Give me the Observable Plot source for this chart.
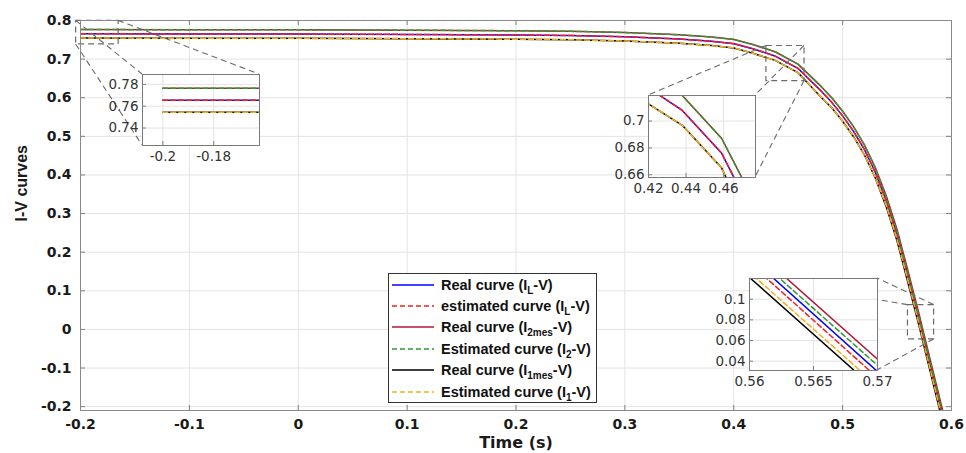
<!DOCTYPE html>
<html><head><meta charset="utf-8">
<script src="https://cdn.jsdelivr.net/npm/d3@7"></script>
<script src="https://cdn.jsdelivr.net/npm/@observablehq/plot@0.6"></script>
<style>
body{margin:0;background:#fff;}
#wrap{position:relative;width:966px;height:453px;overflow:hidden;font-family:"Liberation Sans",Arial,sans-serif;}
#legend{position:absolute;left:388px;top:273px;height:130px;border:1px solid #333;background:#fff;box-sizing:border-box;padding-right:5px;}
.row{height:21.4px;display:flex;align-items:center;font-family:"Liberation Sans";font-weight:bold;font-size:14.5px;color:#111;white-space:nowrap;}
.row svg{margin-left:3px;margin-right:7px;flex:none;}
.row sub{font-size:10px;line-height:0;vertical-align:-4px;}
</style></head>
<body><div id="wrap"></div>
<script>
// ---------- data ----------
const T = [-0.2, -0.1, 0, 0.1, 0.2, 0.25, 0.3, 0.35, 0.38, 0.4, 0.4175, 0.438, 0.459, 0.48, 0.49, 0.5, 0.51, 0.52, 0.53, 0.54, 0.55, 0.56, 0.57, 0.58, 0.59, 0.595];
const IL_real = [0.7655, 0.7652, 0.7648, 0.7640, 0.7625, 0.7610, 0.7580, 0.7520, 0.7460, 0.7400, 0.7270, 0.7079, 0.6760, 0.618, 0.588, 0.553, 0.513, 0.466, 0.407, 0.335, 0.247, 0.141, 0.030, -0.085, -0.200, -0.258];
const IL_est  = [0.7655, 0.7652, 0.7648, 0.7640, 0.7625, 0.7610, 0.7580, 0.7520, 0.7460, 0.7400, 0.7270, 0.7079, 0.6760, 0.618, 0.588, 0.553, 0.513, 0.466, 0.407, 0.332, 0.242, 0.135, 0.024, -0.091, -0.206, -0.264];
const I2_real = [0.7765, 0.7762, 0.7758, 0.7750, 0.7735, 0.7720, 0.7690, 0.7630, 0.7570, 0.7510, 0.7380, 0.7190, 0.6870, 0.630, 0.600, 0.565, 0.525, 0.478, 0.419, 0.347, 0.259, 0.152, 0.042, -0.073, -0.188, -0.246];
const I2_est  = [0.7765, 0.7762, 0.7758, 0.7750, 0.7735, 0.7720, 0.7690, 0.7630, 0.7570, 0.7510, 0.7380, 0.7190, 0.6870, 0.630, 0.600, 0.565, 0.525, 0.478, 0.419, 0.342, 0.254, 0.146, 0.036, -0.079, -0.194, -0.252];
const I1_real = [0.7545, 0.7542, 0.7538, 0.7530, 0.7515, 0.7500, 0.7470, 0.7410, 0.7350, 0.7290, 0.7150, 0.6968, 0.6650, 0.602, 0.574, 0.539, 0.499, 0.452, 0.392, 0.318, 0.229, 0.121, 0.011, -0.104, -0.219, -0.277];
const I1_est  = [0.7545, 0.7542, 0.7538, 0.7530, 0.7515, 0.7500, 0.7470, 0.7410, 0.7350, 0.7290, 0.7150, 0.6968, 0.6650, 0.602, 0.574, 0.539, 0.499, 0.452, 0.392, 0.321, 0.233, 0.126, 0.016, -0.099, -0.214, -0.272];

const legendLabels = [
  ["Real curve (I", "L", "-V)"],
  ["estimated curve (I", "L", "-V)"],
  ["Real curve (I", "2mes", "-V)"],
  ["Estimated curve (I", "2", "-V)"],
  ["Real curve (I", "1mes", "-V)"],
  ["Estimated curve (I", "1", "-V)"]
];
const xTicks = [-0.2, -0.1, 0, 0.1, 0.2, 0.3, 0.4, 0.5, 0.6];
const yTicks = [-0.2, -0.1, 0, 0.1, 0.2, 0.3, 0.4, 0.5, 0.6, 0.7, 0.8];
const xLabel = "Time (s)";
const yLabel = "I-V curves";

// zoom boxes (data coords of the main plot)
const boxX1 = [-0.204, 0.430, 0.560];
const boxX2 = [-0.165, 0.465, 0.584];
const boxY1 = [0.738, 0.643, -0.026];
const boxY2 = [0.799, 0.734, 0.063];

// insets
const insetXDomains = [[-0.208, -0.162], [0.42, 0.477], [0.56, 0.57]];
const insetYDomains = [[0.724, 0.789], [0.658, 0.719], [0.031, 0.12]];
const insetXTicks = [[-0.2, -0.18], [0.42, 0.44, 0.46], [0.56, 0.565, 0.57]];
const insetYTicks = [[0.74, 0.76, 0.78], [0.66, 0.68, 0.7], [0.04, 0.06, 0.08, 0.1]];

// ---------- styles ----------
const series = [
  {y: IL_real, color: "#0000ff", dash: null},
  {y: IL_est,  color: "#ff1a1a", dash: "5,3"},
  {y: I2_real, color: "#b5163a", dash: null},
  {y: I2_est,  color: "#2f9a2f", dash: "5,3"},
  {y: I1_real, color: "#000000", dash: null},
  {y: I1_est,  color: "#f0b020", dash: "5,3"}
];
// inset frames in pixels (left, top, width, height) ; which corners connect
const insetPos = [
  {x: 142, y: 74, w: 117, h: 71, corners: ["TL", "BL", "TR"]},
  {x: 648, y: 95, w: 107, h: 82, corners: ["TL", "TR", "BR"]},
  {x: 749, y: 278, w: 128, h: 92, corners: ["TL", "TR", "BR"]}
];

const fmt = d => String(Math.round(d * 10000) / 10000);
const W = 966, H = 453, mL = 80, mR = 15, mT = 20, mB = 43;
const fw = W - mL - mR, fh = H - mT - mB;
const wrap = document.getElementById("wrap");

const lines = () => series.map(s => Plot.line(T, {x: T, y: s.y, stroke: s.color, strokeWidth: 1.5, strokeDasharray: s.dash, clip: true}));
const boxIdx = [0, 1, 2];

const main = Plot.plot({
  width: W, height: H, marginLeft: mL, marginRight: mR, marginTop: mT, marginBottom: mB,
  x: {domain: [-0.2, 0.6]},
  y: {domain: [-0.21, 0.8]},
  style: {fontFamily: "DejaVu Sans", fontSize: "14px", color: "#1a1a1a", background: "white", overflow: "visible"},
  marks: [
    Plot.gridX(xTicks, {stroke: "#e3e3e3", strokeOpacity: 1}),
    Plot.gridY(yTicks, {stroke: "#e3e3e3", strokeOpacity: 1}),
    ...lines(),
    Plot.rect(boxIdx, {x1: i => boxX1[i], x2: i => boxX2[i], y1: i => boxY1[i], y2: i => boxY2[i], fill: "none", stroke: "#6a6a6a", strokeWidth: 1.2, strokeDasharray: "6,4"}),
    Plot.ruleX(xTicks, {x: d => d, insetTop: fh - 5, stroke: "#808080"}),
    Plot.ruleX(xTicks, {x: d => d, insetBottom: fh - 5, stroke: "#808080"}),
    Plot.ruleY(yTicks, {y: d => d, insetRight: fw - 5, stroke: "#808080"}),
    Plot.ruleY(yTicks, {y: d => d, insetLeft: fw - 5, stroke: "#808080"}),
    Plot.frame({stroke: "#8a8a8a"}),
    Plot.axisX(xTicks, {tickSize: 0, tickPadding: 9, tickFormat: fmt, fontWeight: "bold", fontSize: 14, label: null}),
    Plot.axisY(yTicks, {tickSize: 0, tickPadding: 9, tickFormat: fmt, fontWeight: "bold", fontSize: 14, label: null}),
    Plot.text([xLabel], {frameAnchor: "bottom", dy: 32, text: d => d, fontWeight: "bold", fontSize: 16, fontFamily: "DejaVu Sans", lineAnchor: "middle"}),
    Plot.text([yLabel], {frameAnchor: "left", dx: -59, dy: 6, rotate: -90, text: d => d, fontSize: 16, fontWeight: "bold", fontFamily: "Liberation Sans", lineAnchor: "middle"})
  ]
});
wrap.appendChild(main);

// connectors from zoom boxes to insets
const sx = main.scale("x"), sy = main.scale("y");
const gC = d3.select(main).append("g").attr("stroke", "#6a6a6a").attr("stroke-width", 1.1).attr("stroke-dasharray", "6,4").attr("fill", "none");
boxIdx.forEach(i => {
  const bx = {L: sx.apply(boxX1[i]), R: sx.apply(boxX2[i])};
  const by = {T: sy.apply(boxY2[i]), B: sy.apply(boxY1[i])};
  const p = insetPos[i];
  const ix = {L: p.x, R: p.x + p.w}, iy = {T: p.y, B: p.y + p.h};
  p.corners.forEach(c => {
    const v = c[0], h = c[1];
    gC.append("line").attr("x1", bx[h]).attr("y1", by[v]).attr("x2", ix[h]).attr("y2", iy[v]);
  });
});

// insets
insetPos.forEach((p, i) => {
  const iL = 46, iR = 6, iT = 4, iB = 24;
  const xt = insetXTicks[i], yt = insetYTicks[i];
  const el = Plot.plot({
    width: p.w + iL + iR, height: p.h + iT + iB,
    marginLeft: iL, marginRight: iR, marginTop: iT, marginBottom: iB,
    x: {domain: insetXDomains[i]}, y: {domain: insetYDomains[i]},
    style: {fontFamily: "DejaVu Sans", fontSize: "13.5px", color: "#333", background: "transparent", overflow: "visible"},
    marks: [
      Plot.frame({fill: "white", stroke: "none"}),
      Plot.gridX(xt, {stroke: "#e3e3e3", strokeOpacity: 1}),
      Plot.gridY(yt, {stroke: "#e3e3e3", strokeOpacity: 1}),
      ...lines(),
      Plot.ruleX(xt, {x: d => d, insetTop: p.h - 4, stroke: "#808080"}),
      Plot.ruleY(yt, {y: d => d, insetRight: p.w - 4, stroke: "#808080"}),
      Plot.frame({stroke: "#7a7a7a"}),
      Plot.axisX(xt, {tickSize: 0, tickPadding: 6, tickFormat: fmt, label: null}),
      Plot.axisY(yt, {tickSize: 0, tickPadding: 4, tickFormat: fmt, label: null})
    ]
  });
  el.style.position = "absolute";
  el.style.left = (p.x - iL) + "px";
  el.style.top = (p.y - iT) + "px";
  wrap.appendChild(el);
});

// legend
const leg = document.createElement("div");
leg.id = "legend";
series.forEach((s, i) => {
  const row = document.createElement("div");
  row.className = "row";
  const lab = legendLabels[i];
  row.innerHTML = `<svg width="42" height="6"><line x1="0" y1="3" x2="42" y2="3" stroke="${s.color}" stroke-width="1.5" ${s.dash ? `stroke-dasharray="${s.dash}"` : ""}/></svg><span>${lab[0]}<sub>${lab[1]}</sub>${lab[2]}</span>`;
  leg.appendChild(row);
});
wrap.appendChild(leg);
</script>
</body></html>
